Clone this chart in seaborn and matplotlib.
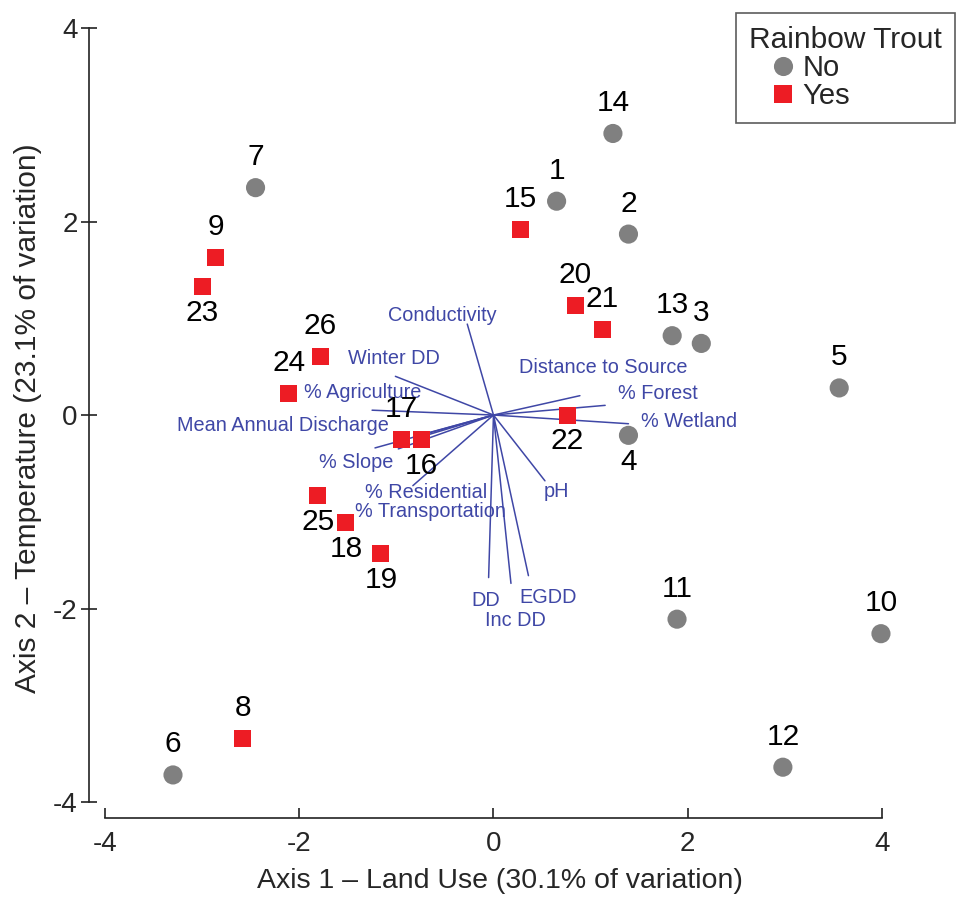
import pandas as pd
import seaborn as sns
import matplotlib.pyplot as plt

# Site scores on the two ordination axes
site = list(range(1, 27))
axis1 = [0.65, 1.39, 2.14, 1.39, 3.56, -3.30, -2.45, -2.58, -2.86, 3.99,
         1.89, 2.98, 1.84, 1.23, 0.28, -0.74, -0.95, -1.52, -1.16, 0.84,
         1.12, 0.76, -3.00, -2.11, -1.81, -1.78]
axis2 = [2.21, 1.87, 0.74, -0.21, 0.28, -3.72, 2.35, -3.34, 1.63, -2.26,
         -2.11, -3.64, 0.82, 2.91, 1.92, -0.25, -0.25, -1.11, -1.43, 1.13,
         0.88, 0.00, 1.33, 0.22, -0.83, 0.60]
trout = ['No'] * 7 + ['Yes'] * 2 + ['No'] * 5 + ['Yes'] * 12

# Environmental vectors (biplot arrows)
env_var = ['Conductivity', 'Winter DD', '% Agriculture', 'Mean Annual Discharge',
           '% Slope', '% Transportation', '', '% Residential', 'DD', 'Inc DD',
           'EGDD', 'pH', 'Distance to Source', '% Forest', '% Wetland']
env_x = [-0.27, -1.01, -1.25, -0.98, -1.22, -0.76, -0.73, -0.83, -0.05, 0.18,
         0.36, 0.53, 0.89, 1.15, 1.39]
env_y = [0.94, 0.40, 0.05, -0.35, -0.34, -0.23, -0.20, -0.73, -1.68, -1.74,
         -1.66, -0.68, 0.20, 0.10, -0.09]

# sites whose number sits below the marker
below = [4, 16, 18, 19, 22, 23, 25]

df = pd.DataFrame({'site': site, 'x': axis1, 'y': axis2, 'Rainbow Trout': trout})

sns.set_style('white')
plt.rcParams['font.family'] = ['Liberation Sans', 'DejaVu Sans']

fig = plt.figure(figsize=(9.56, 8.99), dpi=100)
ax = fig.add_axes([0.0936, 0.0901, 0.8594, 0.8895])

blue = '#3f47a6'

# vectors first so markers sit on top
for name, vx, vy in zip(env_var, env_x, env_y):
    ax.plot([0, vx], [0, vy], color=blue, lw=1.1, zorder=1)

label_xy = {
    'Conductivity': (-0.53, 1.03),
    'Winter DD': (-1.03, 0.58),
    '% Agriculture': (-1.35, 0.23),
    'Mean Annual Discharge': (-2.17, -0.11),
    '% Slope': (-1.41, -0.49),
    '% Residential': (-0.69, -0.80),
    '% Transportation': (-0.65, -1.00),
    'DD': (-0.08, -1.92),
    'Inc DD': (0.23, -2.12),
    'EGDD': (0.56, -1.89),
    'pH': (0.65, -0.79),
    'Distance to Source': (1.13, 0.49),
    '% Forest': (1.69, 0.22),
    '% Wetland': (2.01, -0.07),
}
for name, (lx, ly) in label_xy.items():
    ax.text(lx, ly, name, color=blue, fontsize=14.3, ha='center', va='center', zorder=2)

sns.scatterplot(data=df, x='x', y='y', hue='Rainbow Trout', style='Rainbow Trout',
                size='Rainbow Trout', sizes={'No': 190, 'Yes': 150},
                markers={'No': 'o', 'Yes': 's'},
                palette={'No': '#808080', 'Yes': '#ed1c24'},
                linewidth=0, ax=ax, zorder=3)

for s, px, py in zip(site, axis1, axis2):
    dy = -19 if s in below else 22
    ax.annotate(str(s), (px, py), xytext=(0, dy), textcoords='offset points',
                ha='center', va='center', fontsize=21.5, color='black')

ax.set_xlim(-4.16, 4.3)
ax.set_ylim(-4.165, 4.1)
ax.set_xticks([-4, -2, 0, 2, 4])
ax.set_yticks([-4, -2, 0, 2, 4])
ax.set_xticklabels(['-4', '-2', '0', '2', '4'])
ax.set_yticklabels(['-4', '-2', '0', '2', '4'])
ax.spines['top'].set_visible(False)
ax.spines['right'].set_visible(False)
ax.spines['left'].set_bounds(-4, 4)
ax.spines['bottom'].set_bounds(-4, 4)
for sp in ['left', 'bottom']:
    ax.spines[sp].set_color('#222222')
    ax.spines[sp].set_linewidth(1.2)
ax.tick_params(axis='x', bottom=True, direction='in', length=7, width=1.2,
               color='#222222', pad=9, labelsize=20)
ax.tick_params(axis='y', left=True, direction='inout', length=11, width=1.2,
               color='#222222', pad=3, labelsize=20)
ax.set_xlabel('Axis 1 \u2013 Land Use (30.1% of variation)', fontsize=20.5, labelpad=8)
ax.set_ylabel('Axis 2 \u2013 Temperature (23.1% of variation)', fontsize=21.5, labelpad=8)

# marker indented under the title, text close to the marker
leg = ax.legend(title='Rainbow Trout', loc='upper right',
                bbox_to_anchor=(955 / 956, 1 - 13 / 899), bbox_transform=fig.transFigure,
                borderaxespad=0, fontsize=21, title_fontsize=21.5, frameon=True,
                fancybox=False, alignment='left', handletextpad=-0.5,
                labelspacing=0.0, borderpad=0.45, handlelength=2.33)
leg.get_frame().set_edgecolor('#333333')
leg.get_frame().set_linewidth(1.2)

fig.savefig('out.png', dpi=100)
